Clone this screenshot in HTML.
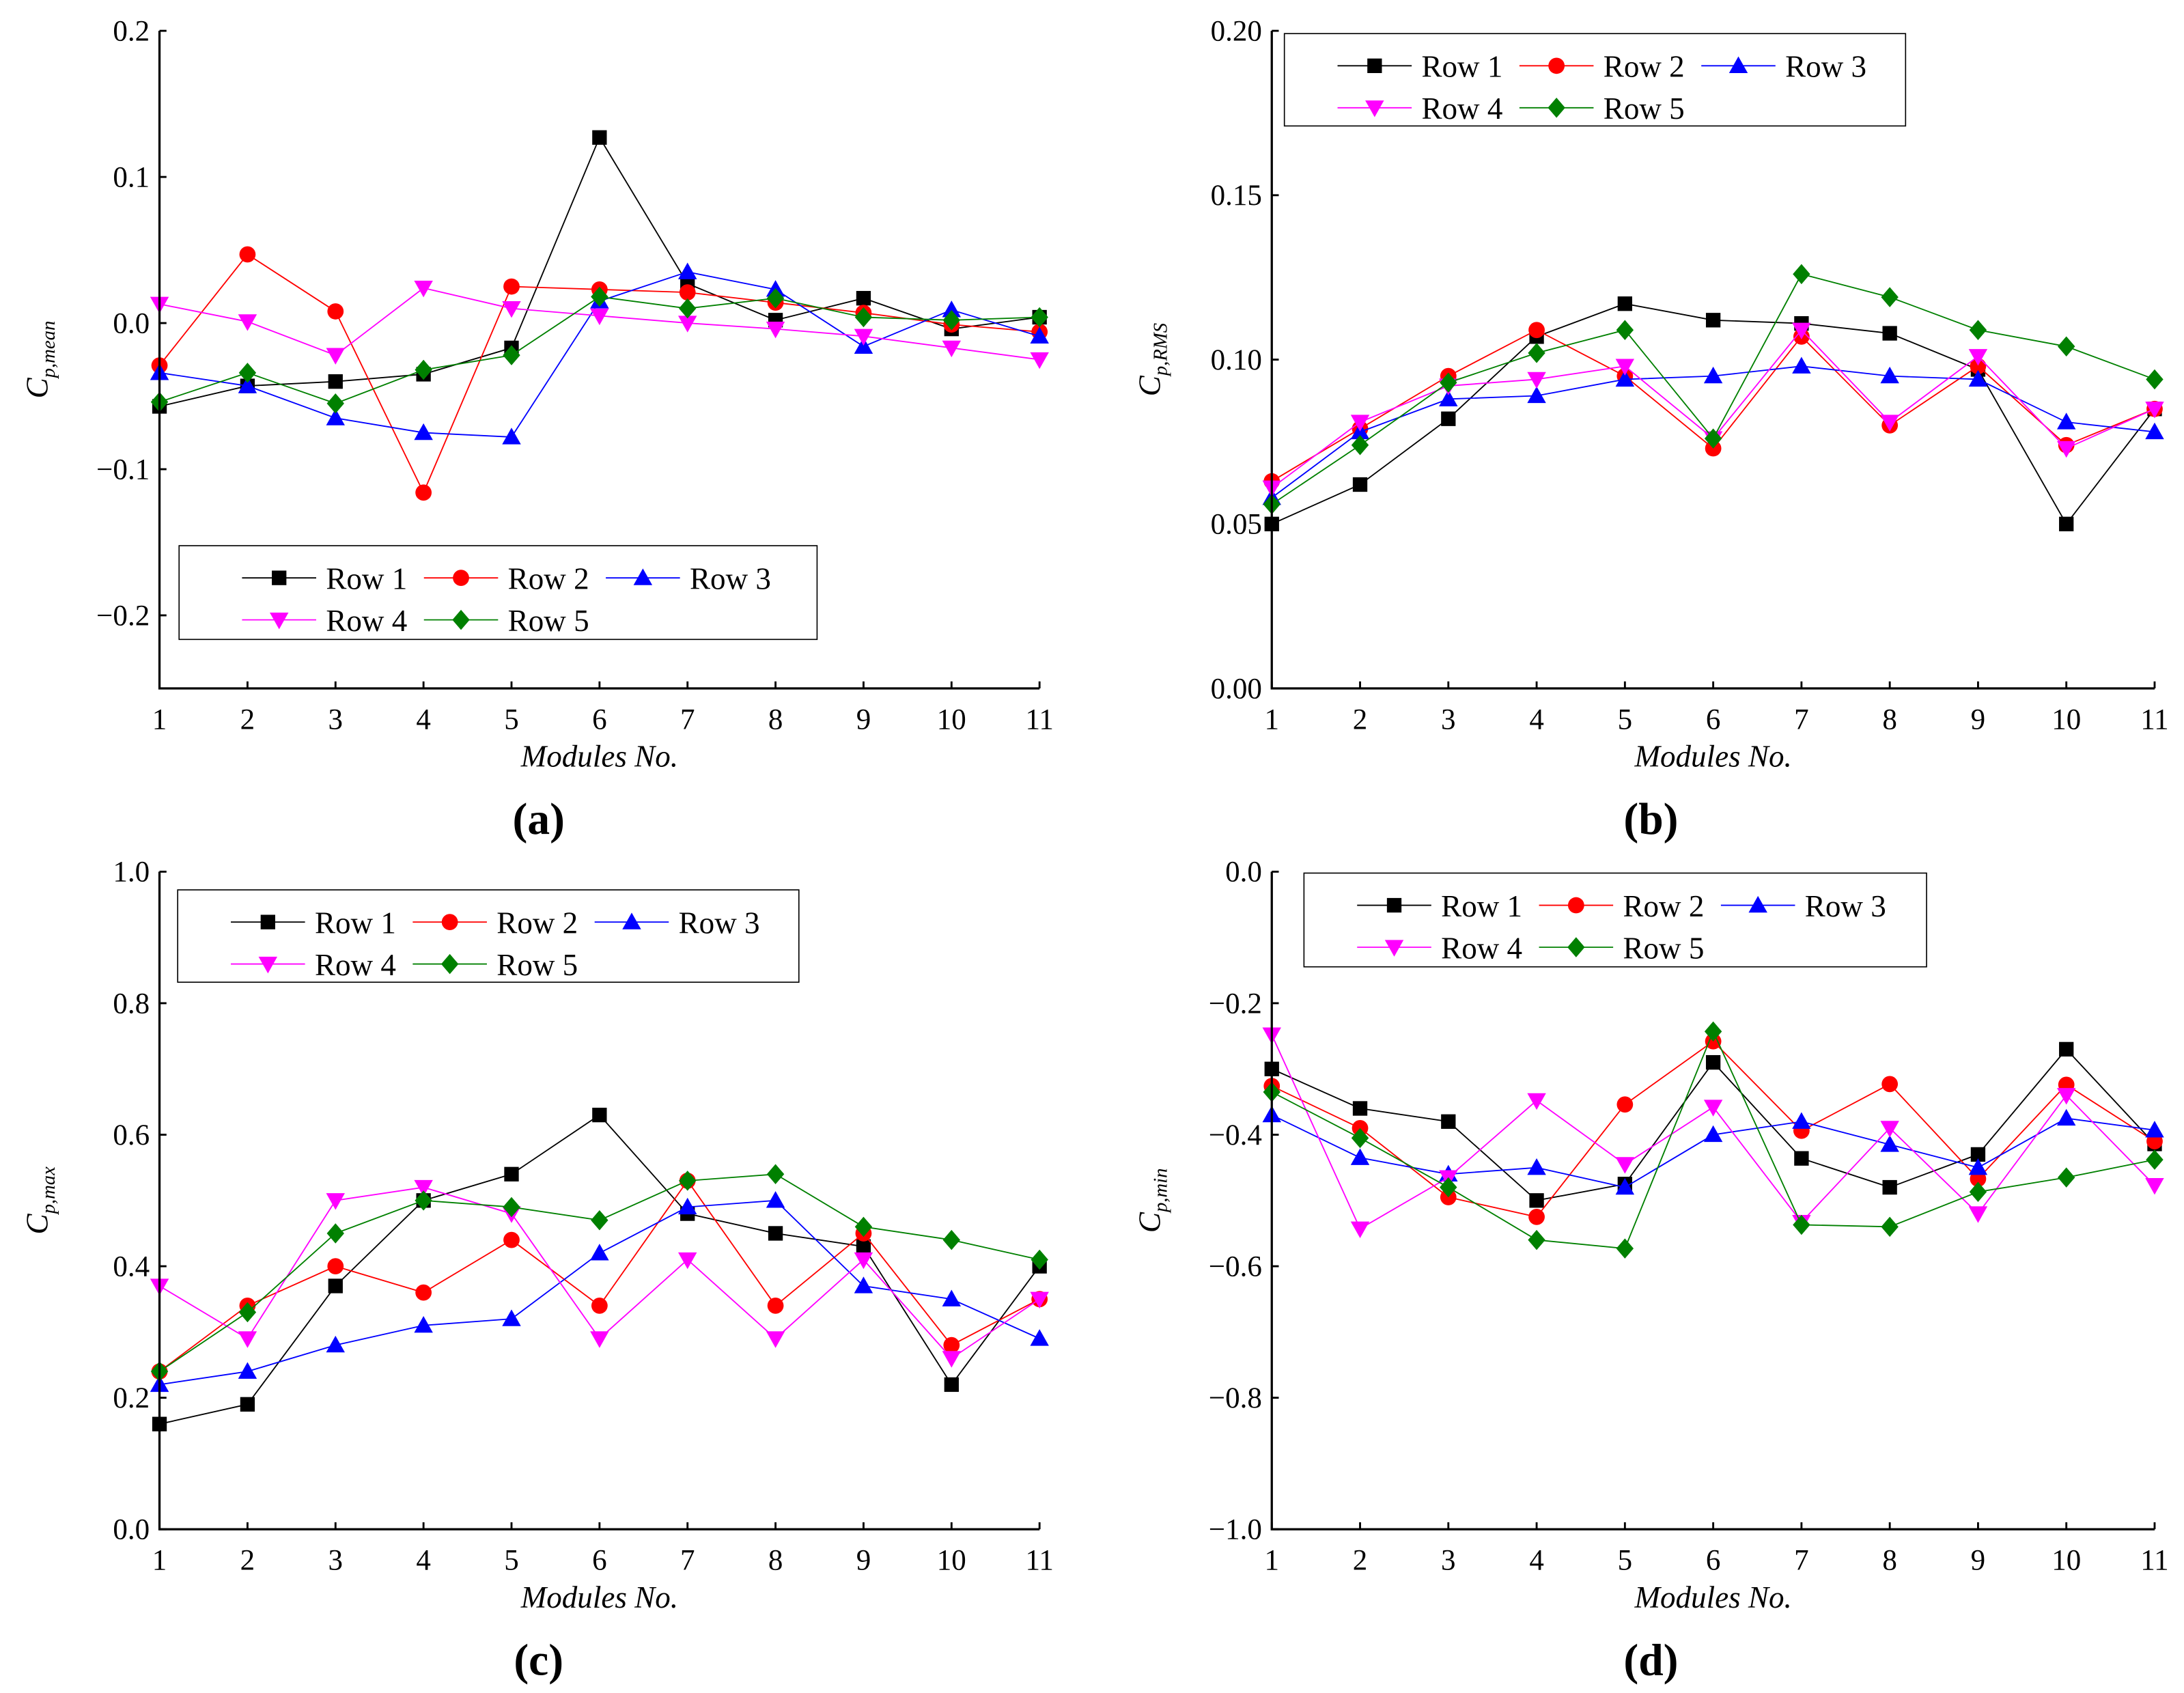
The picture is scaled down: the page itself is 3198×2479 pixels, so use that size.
<!DOCTYPE html>
<html><head><meta charset="utf-8">
<style>
html,body{margin:0;padding:0;background:#fff;}
svg{display:block;font-family:"Liberation Serif","Times New Roman",serif;}
svg text{font-family:"Liberation Serif","Times New Roman",serif;fill:#000;}
</style></head>
<body>
<svg id="fig" width="3198" height="2479" viewBox="0 0 1561 1210" font-family="Liberation Serif, serif" xmlns="http://www.w3.org/2000/svg"></svg>
<script>
const modules = [1,2,3,4,5,6,7,8,9,10,11];
const seriesNames = ["Row 1","Row 2","Row 3","Row 4","Row 5"];
const colors = ["#000000","#ff0000","#0000ff","#ff00ff","#008000"];
const markers = ["square","circle","triangle","invtriangle","diamond"];

const meanRow1 = [-0.057,-0.043,-0.040,-0.035,-0.017,0.127,0.027,0.002,0.017,-0.004,0.004];
const meanRow2 = [-0.029,0.047,0.008,-0.116,0.025,0.023,0.021,0.014,0.007,-0.001,-0.006];
const meanRow3 = [-0.034,-0.043,-0.065,-0.075,-0.078,0.015,0.035,0.023,-0.016,0.009,-0.009];
const meanRow4 = [0.013,0.001,-0.022,0.024,0.010,0.005,0.000,-0.004,-0.009,-0.017,-0.025];
const meanRow5 = [-0.054,-0.034,-0.055,-0.032,-0.022,0.018,0.010,0.017,0.004,0.002,0.004];

const rmsRow1 = [0.050,0.062,0.082,0.107,0.117,0.112,0.111,0.108,0.097,0.050,0.085];
const rmsRow2 = [0.063,0.079,0.095,0.109,0.095,0.073,0.107,0.080,0.098,0.074,0.085];
const rmsRow3 = [0.058,0.078,0.088,0.089,0.094,0.095,0.098,0.095,0.094,0.081,0.078];
const rmsRow4 = [0.061,0.081,0.092,0.094,0.098,0.076,0.109,0.081,0.101,0.073,0.085];
const rmsRow5 = [0.056,0.074,0.093,0.102,0.109,0.076,0.126,0.119,0.109,0.104,0.094];

const maxRow1 = [0.16,0.19,0.37,0.50,0.54,0.63,0.48,0.45,0.43,0.22,0.40];
const maxRow2 = [0.24,0.34,0.40,0.36,0.44,0.34,0.53,0.34,0.45,0.28,0.35];
const maxRow3 = [0.22,0.24,0.28,0.31,0.32,0.42,0.49,0.50,0.37,0.35,0.29];
const maxRow4 = [0.37,0.29,0.50,0.52,0.48,0.29,0.41,0.29,0.41,0.26,0.35];
const maxRow5 = [0.24,0.33,0.45,0.50,0.49,0.47,0.53,0.54,0.46,0.44,0.41];

const minRow1 = [-0.30,-0.36,-0.38,-0.50,-0.475,-0.29,-0.436,-0.48,-0.43,-0.27,-0.414];
const minRow2 = [-0.326,-0.39,-0.495,-0.525,-0.354,-0.258,-0.394,-0.323,-0.467,-0.324,-0.41];
const minRow3 = [-0.37,-0.435,-0.46,-0.45,-0.48,-0.40,-0.38,-0.415,-0.45,-0.375,-0.393];
const minRow4 = [-0.248,-0.543,-0.465,-0.348,-0.445,-0.358,-0.533,-0.39,-0.52,-0.34,-0.477];
const minRow5 = [-0.335,-0.405,-0.48,-0.56,-0.573,-0.243,-0.537,-0.54,-0.487,-0.465,-0.438];

const ticksA = [0.2,0.1,0.0,-0.1,-0.2];
const tickLabelsA = ["0.2","0.1","0.0","\u22120.1","\u22120.2"];
const ticksB = [0.20,0.15,0.10,0.05,0.00];
const tickLabelsB = ["0.20","0.15","0.10","0.05","0.00"];
const ticksC = [1.0,0.8,0.6,0.4,0.2,0.0];
const tickLabelsC = ["1.0","0.8","0.6","0.4","0.2","0.0"];
const ticksD = [0.0,-0.2,-0.4,-0.6,-0.8,-1.0];
const tickLabelsD = ["0.0","\u22120.2","\u22120.4","\u22120.6","\u22120.8","\u22121.0"];

const NS = "http://www.w3.org/2000/svg";
const FONT = "Liberation Serif, Times New Roman, serif";
const svg = document.getElementById("fig");
function mk(tag, attrs, parent){
  const e = document.createElementNS(NS, tag);
  for (const k in attrs) e.setAttribute(k, attrs[k]);
  if (tag === "text") e.setAttribute("font-family", FONT);
  (parent||svg).appendChild(e);
  return e;
}
function marker(g, type, cx, cy, color){
  const s = 5.2;
  let e;
  if (type==="square") e = mk("rect",{x:cx-s,y:cy-s,width:2*s,height:2*s,fill:color},g);
  else if (type==="circle") e = mk("circle",{cx:cx,cy:cy,r:s+0.6,fill:color},g);
  else if (type==="triangle") e = mk("polygon",{points:`${cx},${cy-s-1.5} ${cx-s-1.5},${cy+s} ${cx+s+1.5},${cy+s}`,fill:color},g);
  else if (type==="invtriangle") e = mk("polygon",{points:`${cx},${cy+s+1.5} ${cx-s-1.5},${cy-s} ${cx+s+1.5},${cy-s}`,fill:color},g);
  else e = mk("polygon",{points:`${cx},${cy-s-2} ${cx+s+1},${cy} ${cx},${cy+s+2} ${cx-s-1},${cy}`,fill:color},g);
  
  
  return e;
}

function panel(p){
  const g = mk("g",{});
  
  
  const xs = v => p.x0 + (v-1)/(10)*(p.x1-p.x0);
  const ys = v => p.yTop + (p.yMax - v)/(p.yMax - p.yMin)*(p.yBot - p.yTop);
  p.series.forEach((arr, si) => {
    const sg = mk("g",{},g);
    
    
    const pts = arr.map((v,i)=>xs(modules[i])+","+ys(v)).join(" ");
    const pl = mk("polyline",{points:pts,fill:"none",stroke:colors[si],"stroke-width":0.9},sg);
    
    
    arr.forEach((v,i)=>{ marker(sg, markers[si], xs(modules[i]), ys(v), colors[si]); });
  });
  const ax = mk("path",{d:`M${p.x0},${p.yTop} L${p.x0},${p.yBot} L${p.x1},${p.yBot}`,fill:"none",stroke:"#000","stroke-width":1.6},g);
  
  
  p.ticks.forEach((t,i)=>{
    const y = ys(t);
    const tl = mk("line",{x1:p.x0,y1:y,x2:p.x0+5,y2:y,stroke:"#000","stroke-width":1.4},g);
    
    
    const tx = mk("text",{x:p.x0-7,y:y+7,"text-anchor":"end","font-size":21},g);
    tx.textContent = p.tickLabels[i];
    
    
  });
  modules.forEach(m=>{
    const x = xs(m);
    const tl = mk("line",{x1:x,y1:p.yBot,x2:x,y2:p.yBot-5,stroke:"#000","stroke-width":1.4},g);
    
    
    const tx = mk("text",{x:x,y:p.yBot+29,"text-anchor":"middle","font-size":21},g);
    tx.textContent = String(m);
    
    
  });
  const xt = mk("text",{x:(p.x0+p.x1)/2,y:p.yBot+56,"text-anchor":"middle","font-size":22,"font-style":"italic"},g);
  xt.textContent = "Modules No.";
  
  
  const cy = (p.yTop+p.yBot)/2;
  const yt = mk("text",{x:0,y:0,transform:`translate(${p.x0-80},${cy}) rotate(-90)`,"text-anchor":"middle","font-size":22,"font-style":"italic"},g);
  yt.innerHTML = `C<tspan font-size="14" dy="5">${p.sub}</tspan>`;
  
  
  const lab = mk("text",{x:p.labX,y:p.labY,"text-anchor":"middle","font-size":32,"font-weight":"bold"},g);
  lab.textContent = "(" + p.id + ")";
  
  
  const L = p.leg;
  const lg = mk("g",{},g);
  
  
  mk("rect",{x:L.x,y:L.y,width:L.w,height:L.h,fill:"#fff",stroke:"#000","stroke-width":0.8},lg);
  seriesNames.forEach((nm,si)=>{
    const row = si<3?0:1, col = si<3?si:si-3;
    const lx = L.x + L.off + col*130;
    const ly = L.y + 23 + row*30;
    const eg = mk("g",{},lg);
    
    
    mk("line",{x1:lx,y1:ly,x2:lx+53,y2:ly,stroke:colors[si],"stroke-width":0.9},eg);
    marker(eg, markers[si], lx+26.5, ly, colors[si]);
    const t = mk("text",{x:lx+60,y:ly+8,"font-size":22},eg);
    t.textContent = nm;
  });
}

panel({id:"a",x0:114,x1:743,yTop:22,yBot:492,yMax:0.2,yMin:-0.25,ticks:ticksA,tickLabels:tickLabelsA,sub:"p,mean",
  series:[meanRow1,meanRow2,meanRow3,meanRow4,meanRow5],labX:385,labY:596,leg:{x:128,y:390,w:456,h:67,off:45}});
panel({id:"b",x0:909,x1:1540,yTop:22,yBot:492,yMax:0.20,yMin:0.0,ticks:ticksB,tickLabels:tickLabelsB,sub:"p,RMS",
  series:[rmsRow1,rmsRow2,rmsRow3,rmsRow4,rmsRow5],labX:1180,labY:596,leg:{x:918,y:24,w:444,h:66,off:38}});
panel({id:"c",x0:114,x1:743,yTop:623,yBot:1093,yMax:1.0,yMin:0.0,ticks:ticksC,tickLabels:tickLabelsC,sub:"p,max",
  series:[maxRow1,maxRow2,maxRow3,maxRow4,maxRow5],labX:385,labY:1197,leg:{x:127,y:636,w:444,h:66,off:38}});
panel({id:"d",x0:909,x1:1540,yTop:623,yBot:1093,yMax:0.0,yMin:-1.0,ticks:ticksD,tickLabels:tickLabelsD,sub:"p,min",
  series:[minRow1,minRow2,minRow3,minRow4,minRow5],labX:1180,labY:1197,leg:{x:932,y:624,w:445,h:67,off:38}});
</script>
</body></html>
